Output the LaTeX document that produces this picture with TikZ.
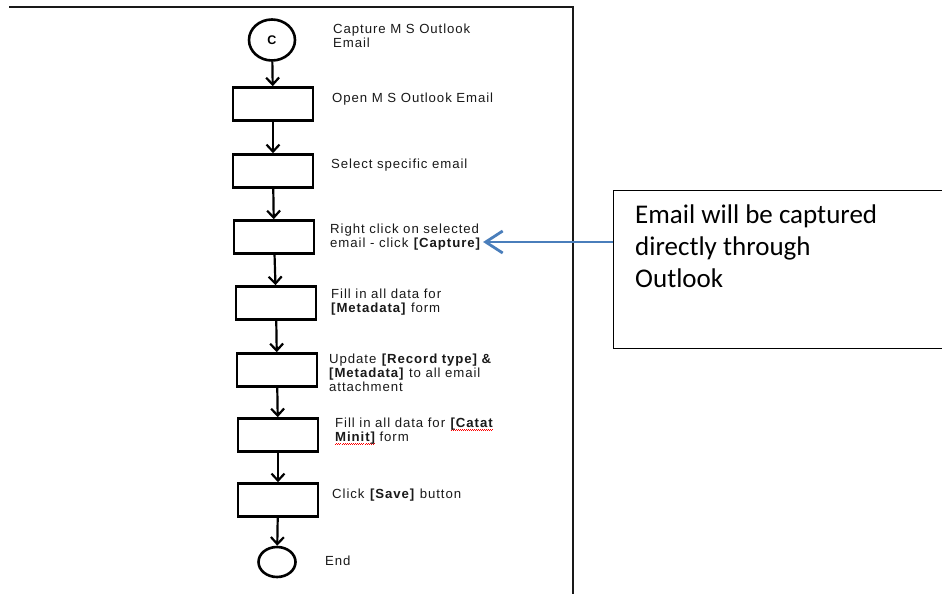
\documentclass[tikz,border=0pt]{standalone}
\usepackage{fontspec}
\setmainfont{Liberation Sans}
\newfontfamily\flowfont[LetterSpace=7]{Liberation Sans}
\newfontfamily\notefont{Carlito}
\usetikzlibrary{arrows.meta, positioning, shapes.geometric}

% red spell-check wave under a word
\newcommand\spellwave[1]{\setbox0\hbox{#1}\leavevmode\rlap{\color{red}\hbox to\wd0{\xleaders\hbox{\rule[-3pt]{1pt}{0.7pt}\rule[-2.3pt]{1pt}{0.7pt}}\hfil}}\box0}

\definecolor{pointerblue}{RGB}{74,126,187}

\begin{document}
\begin{tikzpicture}[x=1pt, y=-1pt,
    stepbox/.style={draw, line width=2.6pt, minimum width=80pt, minimum height=33pt, inner sep=0pt},
    terminal/.style={draw, ellipse, line width=2.6pt, inner sep=0pt},
    steptext/.style={font=\flowfont\fontsize{13.2}{14}\selectfont, text=black!90, align=left, anchor=west, inner sep=0pt},
    flow/.style={-{Straight Barb[length=7pt,width=13pt]}, line width=2.2pt},
    pointer/.style={-{Straight Barb[length=17pt,width=22pt]}, line width=2.8pt, draw=pointerblue},
    ]
\useasboundingbox (0,0) rectangle (942,594);

% page frame
\draw[line width=2.6pt, black!90] (9,7) -- (573,7) -- (573,600);

% flow shapes
\node[terminal, minimum width=46pt, minimum height=41pt, font=\bfseries\fontsize{12.5}{13}\selectfont] (start) at (272,40) {C};
\node[stepbox] (open)    at (273,104) {};
\node[stepbox] (select)  at (273,171) {};
\node[stepbox] (rclick)  at (274,237) {};
\node[stepbox] (fillmeta) at (276,303) {};
\node[stepbox] (update)  at (277,370) {};
\node[stepbox] (fillcm)  at (278,435) {};
\node[stepbox] (save)    at (278,500) {};
\node[terminal, minimum width=37pt, minimum height=30pt] (end) at (277,562) {};

\foreach \a/\b in {start/open, open/select, select/rclick, rclick/fillmeta, fillmeta/update, update/fillcm, fillcm/save, save/end}
    \draw[flow] (\a) -- (\b);

% step texts
\node[steptext] (t-start)  at (333,36)  {Capture M S Outlook\\Email};
\node[steptext] (t-open)   at (332,99)  {Open M S Outlook Email};
\node[steptext] (t-select) at (331,165) {Select specific email};
\node[steptext] (t-rclick) at (330,237) {Right click on selected\\email - click \textbf{[Capture]}};
\node[steptext] (t-fillmeta) at (331,302) {Fill in all data for\\\textbf{[Metadata]} form};
\node[steptext] (t-update) at (329,373) {Update \textbf{[Record type] \&}\\\textbf{[Metadata]} to all email\\attachment};
\node[steptext] (t-fillcm) at (335,431) {Fill in all data for \textbf{\spellwave{[Catat}}\\\textbf{\spellwave{Minit]}} form};
\node[steptext] (t-save)   at (332,495) {Click \textbf{[Save]} button};
\node[steptext] (t-end)    at (325,561) {End};

% note box
\node[draw, line width=1.3pt, anchor=north west, minimum width=345pt, minimum height=158pt] (note) at (613,190) {};
\node[font=\notefont\fontsize{27}{32}\selectfont, align=left, anchor=north west, inner sep=0pt] (notetext) at (635,205)
    {Email will be captured\\directly through\\Outlook};
\coordinate (hook) at (613,242);
\draw[pointer, shorten >=2pt] (hook) -- (hook -| t-rclick.east);
\end{tikzpicture}
\end{document}
